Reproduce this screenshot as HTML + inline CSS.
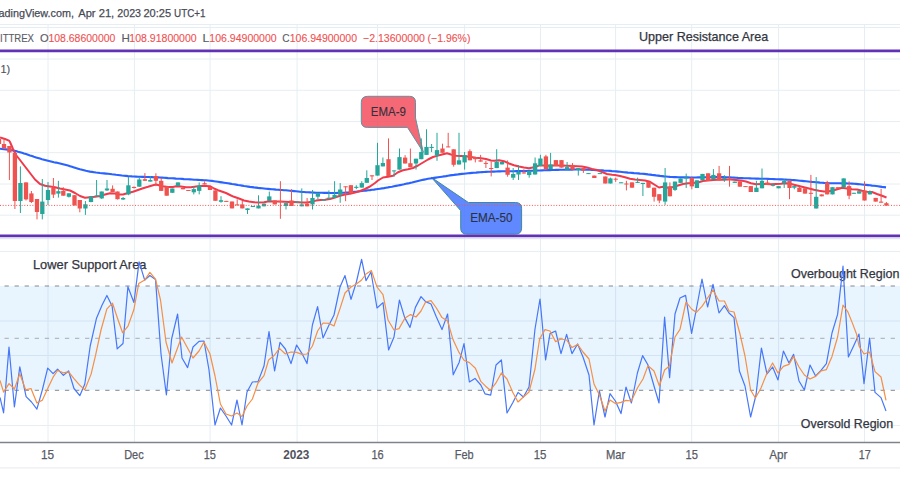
<!DOCTYPE html>
<html><head><meta charset="utf-8"><title>Chart</title>
<style>
html,body{margin:0;padding:0;background:#fff;width:900px;height:500px;overflow:hidden}
svg{display:block}
text{font-family:"Liberation Sans",sans-serif}
</style></head><body>
<svg width="900" height="500" viewBox="0 0 900 500">
<rect x="0" y="0" width="900" height="500" fill="#ffffff"/>
<line x1="0" y1="24.5" x2="900" y2="24.5" stroke="#e6eef3" stroke-width="1"/>
<line x1="0" y1="27.5" x2="900" y2="27.5" stroke="#e6eef3" stroke-width="1"/>
<line x1="0" y1="59" x2="900" y2="59" stroke="#e6eef3" stroke-width="1"/>
<line x1="0" y1="90.3" x2="900" y2="90.3" stroke="#e6eef3" stroke-width="1"/>
<line x1="0" y1="121.5" x2="900" y2="121.5" stroke="#e6eef3" stroke-width="1"/>
<line x1="0" y1="152.7" x2="900" y2="152.7" stroke="#e6eef3" stroke-width="1"/>
<line x1="0" y1="184" x2="900" y2="184" stroke="#e6eef3" stroke-width="1"/>
<line x1="0" y1="215.2" x2="900" y2="215.2" stroke="#e6eef3" stroke-width="1"/>
<line x1="0" y1="251.4" x2="900" y2="251.4" stroke="#e6eef3" stroke-width="1"/>
<line x1="0" y1="321" x2="900" y2="321" stroke="#e6eef3" stroke-width="1"/>
<line x1="0" y1="355.5" x2="900" y2="355.5" stroke="#e6eef3" stroke-width="1"/>
<line x1="0" y1="425.5" x2="900" y2="425.5" stroke="#e6eef3" stroke-width="1"/>
<line x1="48" y1="24.5" x2="48" y2="442" stroke="#e6eef3" stroke-width="1"/>
<line x1="134.4" y1="24.5" x2="134.4" y2="442" stroke="#e6eef3" stroke-width="1"/>
<line x1="210.1" y1="24.5" x2="210.1" y2="442" stroke="#e6eef3" stroke-width="1"/>
<line x1="297.1" y1="24.5" x2="297.1" y2="442" stroke="#e6eef3" stroke-width="1"/>
<line x1="377.5" y1="24.5" x2="377.5" y2="442" stroke="#e6eef3" stroke-width="1"/>
<line x1="464.6" y1="24.5" x2="464.6" y2="442" stroke="#e6eef3" stroke-width="1"/>
<line x1="540.5" y1="24.5" x2="540.5" y2="442" stroke="#e6eef3" stroke-width="1"/>
<line x1="615.6" y1="24.5" x2="615.6" y2="442" stroke="#e6eef3" stroke-width="1"/>
<line x1="691.7" y1="24.5" x2="691.7" y2="442" stroke="#e6eef3" stroke-width="1"/>
<line x1="778.6" y1="24.5" x2="778.6" y2="442" stroke="#e6eef3" stroke-width="1"/>
<line x1="864.5" y1="24.5" x2="864.5" y2="442" stroke="#e6eef3" stroke-width="1"/>
<line x1="0" y1="238.6" x2="900" y2="238.6" stroke="#e3e5ec" stroke-width="1.2"/>
<rect x="0" y="286" width="900" height="104" fill="rgb(33,150,243)" fill-opacity="0.1"/>
<line x1="0" y1="286" x2="900" y2="286" stroke="#85888f" stroke-width="1" stroke-dasharray="4.3 5.77" stroke-dashoffset="5.57"/>
<line x1="0" y1="338.3" x2="900" y2="338.3" stroke="#a9abb1" stroke-width="1" stroke-dasharray="4.3 5.77" stroke-dashoffset="5.57"/>
<line x1="0" y1="390.3" x2="900" y2="390.3" stroke="#85888f" stroke-width="1" stroke-dasharray="4.3 5.77" stroke-dashoffset="5.57"/>
<path d="M367.8,96.3 H409.5 Q415.5,96.3 415.5,102.3 V118 L423.3,152.2 L407.5,127.4 H367.3 Q361.3,127.4 361.3,121.4 V102.3 Q361.3,96.3 367.8,96.3 Z" fill="#f34d5d" fill-opacity="0.85" stroke="#5f93a3" stroke-width="1"/>
<text x="370.73" y="115.5" font-size="12.8" fill="#33303c" stroke="#33303c" stroke-width="0.1" textLength="35.14" lengthAdjust="spacingAndGlyphs">EMA-9</text>
<path d="M468.4,202.5 H515.6 Q521.6,202.5 521.6,208.5 V228.1 Q521.6,234.1 515.6,234.1 H466.7 Q460.7,234.1 460.7,228.1 V210.6 L431.3,177.3 Z" fill="#4474ff" fill-opacity="0.85" stroke="#3f8a9a" stroke-width="1"/>
<text x="470.13" y="221.8" font-size="12.8" fill="#2c3140" stroke="#2c3140" stroke-width="0.1" textLength="42.44" lengthAdjust="spacingAndGlyphs">EMA-50</text>
<polyline points="0.0,148.8 2.0,149.0 4.0,149.2 6.0,149.4 8.0,149.7 10.0,150.0 12.0,150.3 14.0,150.7 16.0,151.1 18.0,151.7 20.0,152.2 22.0,152.8 24.0,153.5 26.0,154.1 28.0,154.8 30.0,155.5 32.0,156.1 34.0,156.8 36.0,157.4 38.0,158.0 40.0,158.6 42.0,159.2 44.0,159.7 46.0,160.2 48.0,160.7 50.0,161.2 52.0,161.7 54.0,162.2 56.0,162.6 58.0,163.1 60.0,163.6 62.0,164.1 64.0,164.6 66.0,165.1 68.0,165.6 70.0,166.2 72.0,166.8 74.0,167.4 76.0,168.1 78.0,168.7 80.0,169.3 82.0,169.8 84.0,170.3 86.0,170.8 88.0,171.2 90.0,171.6 92.0,171.9 94.0,172.2 96.0,172.5 98.0,172.7 100.0,173.0 102.0,173.2 104.0,173.4 106.0,173.6 108.0,173.8 110.0,174.0 112.0,174.3 114.0,174.5 116.0,174.8 118.0,175.0 120.0,175.2 122.0,175.5 124.0,175.7 126.0,175.9 128.0,176.1 130.0,176.2 132.0,176.4 134.0,176.5 136.0,176.6 138.0,176.7 140.0,176.8 142.0,176.9 144.0,176.9 146.0,177.0 148.0,177.0 150.0,177.0 152.0,177.1 154.0,177.2 156.0,177.3 158.0,177.4 160.0,177.5 162.0,177.6 164.0,177.8 166.0,177.9 168.0,178.1 170.0,178.2 172.0,178.3 174.0,178.4 176.0,178.6 178.0,178.7 180.0,178.8 182.0,178.9 184.0,179.1 186.0,179.2 188.0,179.3 190.0,179.4 192.0,179.5 194.0,179.7 196.0,179.8 198.0,179.9 200.0,180.0 202.0,180.1 204.0,180.2 206.0,180.3 208.0,180.5 210.0,180.7 212.0,180.9 214.0,181.2 216.0,181.5 218.0,181.8 220.0,182.1 222.0,182.4 224.0,182.7 226.0,183.0 228.0,183.3 230.0,183.6 232.0,184.0 234.0,184.3 236.0,184.6 238.0,185.0 240.0,185.3 242.0,185.6 244.0,186.0 246.0,186.3 248.0,186.6 250.0,186.9 252.0,187.1 254.0,187.4 256.0,187.6 258.0,187.9 260.0,188.1 262.0,188.3 264.0,188.5 266.0,188.7 268.0,188.9 270.0,189.1 272.0,189.3 274.0,189.4 276.0,189.6 278.0,189.7 280.0,189.9 282.0,190.0 284.0,190.2 286.0,190.3 288.0,190.5 290.0,190.7 292.0,190.9 294.0,191.1 296.0,191.3 298.0,191.5 300.0,191.7 302.0,191.9 304.0,192.0 306.0,192.2 308.0,192.3 310.0,192.4 312.0,192.5 314.0,192.6 316.0,192.7 318.0,192.7 320.0,192.8 322.0,192.8 324.0,192.9 326.0,192.9 328.0,192.9 330.0,193.0 332.0,193.0 334.0,193.0 336.0,193.0 338.0,192.9 340.0,192.9 342.0,192.8 344.0,192.7 346.0,192.6 348.0,192.5 350.0,192.3 352.0,192.2 354.0,191.9 356.0,191.7 358.0,191.5 360.0,191.3 362.0,191.0 364.0,190.8 366.0,190.6 368.0,190.3 370.0,190.1 372.0,189.8 374.0,189.6 376.0,189.3 378.0,189.0 380.0,188.7 382.0,188.4 384.0,188.1 386.0,187.7 388.0,187.4 390.0,187.0 392.0,186.7 394.0,186.3 396.0,185.9 398.0,185.5 400.0,185.1 402.0,184.7 404.0,184.3 406.0,183.8 408.0,183.4 410.0,182.9 412.0,182.5 414.0,182.0 416.0,181.5 418.0,181.0 420.0,180.5 422.0,180.0 424.0,179.6 426.0,179.2 428.0,178.8 430.0,178.5 432.0,178.2 434.0,177.9 436.0,177.6 438.0,177.3 440.0,177.0 442.0,176.7 444.0,176.4 446.0,176.1 448.0,175.7 450.0,175.4 452.0,175.1 454.0,174.9 456.0,174.6 458.0,174.4 460.0,174.1 462.0,173.9 464.0,173.7 466.0,173.5 468.0,173.3 470.0,173.1 472.0,172.9 474.0,172.7 476.0,172.6 478.0,172.4 480.0,172.2 482.0,172.1 484.0,172.0 486.0,171.9 488.0,171.8 490.0,171.7 492.0,171.6 494.0,171.6 496.0,171.5 498.0,171.4 500.0,171.4 502.0,171.3 504.0,171.3 506.0,171.2 508.0,171.2 510.0,171.2 512.0,171.2 514.0,171.2 516.0,171.1 518.0,171.1 520.0,171.1 522.0,171.0 524.0,171.0 526.0,171.0 528.0,170.9 530.0,170.9 532.0,170.8 534.0,170.7 536.0,170.6 538.0,170.5 540.0,170.5 542.0,170.4 544.0,170.3 546.0,170.2 548.0,170.1 550.0,170.1 552.0,170.0 554.0,170.0 556.0,169.9 558.0,169.9 560.0,169.8 562.0,169.8 564.0,169.7 566.0,169.7 568.0,169.6 570.0,169.6 572.0,169.6 574.0,169.5 576.0,169.5 578.0,169.5 580.0,169.5 582.0,169.6 584.0,169.6 586.0,169.6 588.0,169.7 590.0,169.8 592.0,169.9 594.0,170.0 596.0,170.1 598.0,170.2 600.0,170.3 602.0,170.4 604.0,170.6 606.0,170.7 608.0,170.8 610.0,170.9 612.0,171.1 614.0,171.2 616.0,171.4 618.0,171.6 620.0,171.8 622.0,172.0 624.0,172.2 626.0,172.4 628.0,172.6 630.0,172.7 632.0,172.9 634.0,173.1 636.0,173.2 638.0,173.4 640.0,173.6 642.0,173.7 644.0,173.9 646.0,174.1 648.0,174.4 650.0,174.6 652.0,174.9 654.0,175.1 656.0,175.4 658.0,175.6 660.0,175.9 662.0,176.1 664.0,176.4 666.0,176.5 668.0,176.7 670.0,176.9 672.0,177.0 674.0,177.1 676.0,177.1 678.0,177.2 680.0,177.3 682.0,177.3 684.0,177.4 686.0,177.4 688.0,177.4 690.0,177.5 692.0,177.5 694.0,177.5 696.0,177.5 698.0,177.4 700.0,177.4 702.0,177.4 704.0,177.3 706.0,177.3 708.0,177.2 710.0,177.2 712.0,177.1 714.0,177.1 716.0,177.1 718.0,177.1 720.0,177.1 722.0,177.1 724.0,177.1 726.0,177.2 728.0,177.3 730.0,177.4 732.0,177.5 734.0,177.6 736.0,177.7 738.0,177.9 740.0,178.0 742.0,178.1 744.0,178.2 746.0,178.3 748.0,178.3 750.0,178.4 752.0,178.5 754.0,178.5 756.0,178.6 758.0,178.6 760.0,178.7 762.0,178.7 764.0,178.8 766.0,178.8 768.0,178.9 770.0,179.0 772.0,179.0 774.0,179.1 776.0,179.2 778.0,179.3 780.0,179.4 782.0,179.4 784.0,179.5 786.0,179.6 788.0,179.7 790.0,179.8 792.0,180.0 794.0,180.1 796.0,180.3 798.0,180.5 800.0,180.7 802.0,180.9 804.0,181.1 806.0,181.3 808.0,181.5 810.0,181.7 812.0,181.9 814.0,182.0 816.0,182.2 818.0,182.4 820.0,182.6 822.0,182.7 824.0,182.9 826.0,183.0 828.0,183.1 830.0,183.2 832.0,183.3 834.0,183.3 836.0,183.3 838.0,183.3 840.0,183.3 842.0,183.4 844.0,183.4 846.0,183.4 848.0,183.5 850.0,183.5 852.0,183.6 854.0,183.8 856.0,183.9 858.0,184.1 860.0,184.3 862.0,184.5 864.0,184.7 866.0,184.9 868.0,185.1 870.0,185.3 872.0,185.6 874.0,185.8 876.0,186.0 878.0,186.3 880.0,186.6 882.0,186.9 884.0,187.1 886.0,187.4" fill="none" stroke="#2962ff" stroke-width="2.1" stroke-linejoin="round"/>
<polyline points="0.0,137.4 5.0,139.0 9.0,140.6 10.0,142.0 13.0,149.0 16.0,155.0 20.0,160.0 25.0,166.5 30.0,173.0 35.0,179.5 40.0,184.0 45.0,185.8 50.0,186.5 55.0,187.2 60.0,188.5 65.0,189.5 70.0,190.5 75.0,193.0 80.0,196.0 85.0,197.8 90.0,197.2 95.0,196.8 100.0,196.0 105.0,194.5 110.0,193.2 115.0,193.5 118.0,194.6 123.0,194.5 128.0,193.0 133.0,191.8 138.0,190.0 143.0,188.2 148.0,186.8 153.0,185.2 156.0,184.5 158.0,185.0 163.0,186.2 168.0,187.0 173.0,187.0 176.0,186.3 181.0,186.5 186.0,187.2 191.0,187.2 196.0,186.5 201.0,186.0 206.0,186.0 210.0,186.2 214.0,188.5 218.0,190.2 221.0,191.2 226.0,193.0 231.0,195.5 234.0,196.8 239.0,198.5 244.0,200.5 249.0,201.5 254.0,202.2 259.0,202.5 264.0,202.2 269.0,201.3 274.0,201.4 279.0,201.4 284.5,201.7 289.0,202.0 293.5,202.0 298.0,202.3 302.5,202.6 307.0,202.4 311.5,201.7 316.0,200.6 320.5,200.1 325.0,199.8 330.0,199.0 335.0,197.5 340.0,195.8 345.0,194.5 350.0,193.8 355.0,192.5 360.0,191.0 365.0,189.0 370.0,186.5 375.0,183.0 378.0,180.5 383.0,177.5 388.0,176.8 393.0,175.8 398.0,172.2 403.0,170.2 408.0,169.2 413.0,168.0 418.0,165.5 423.0,162.5 428.0,159.5 433.0,157.0 438.0,155.6 441.0,154.8 447.0,153.3 451.0,154.5 456.0,155.8 461.0,156.0 466.0,156.2 471.0,157.0 476.0,157.8 481.0,158.2 486.0,159.0 491.0,160.5 494.0,160.8 499.0,160.2 504.0,161.2 509.0,163.5 514.0,165.2 519.0,166.5 524.0,167.5 529.0,168.2 534.0,167.2 539.0,165.6 544.0,165.5 549.0,165.7 554.0,165.5 557.0,165.5 562.0,165.5 567.0,165.8 572.0,166.0 577.0,166.2 582.0,166.5 587.0,167.5 592.0,169.0 597.0,170.0 602.0,172.0 607.0,174.0 612.0,174.8 615.0,175.0 620.0,176.0 625.0,177.2 630.0,178.8 635.0,179.5 640.0,180.0 645.0,180.5 650.0,181.8 655.0,185.0 659.0,187.5 663.0,186.8 668.0,187.8 673.0,187.0 678.0,185.5 683.0,184.0 688.0,183.2 693.0,183.0 698.0,182.5 703.0,181.0 708.0,180.5 713.0,180.0 718.0,179.8 723.0,179.8 728.0,179.5 731.0,179.5 736.0,180.0 741.0,180.5 746.0,181.5 751.0,183.2 756.0,184.2 761.0,184.0 766.0,184.0 771.0,184.2 776.0,184.0 781.0,183.8 784.0,183.2 789.0,183.5 794.0,184.8 799.0,186.0 804.0,187.2 809.0,188.5 814.0,189.8 819.0,190.8 824.0,191.5 829.0,191.2 834.0,190.2 839.0,188.8 842.0,187.8 847.0,188.5 852.0,189.2 857.0,189.5 862.0,190.8 867.0,191.8 872.0,192.0 877.0,194.0 882.0,195.8 886.5,197.5" fill="none" stroke="#f03a4c" stroke-width="2" stroke-linejoin="round"/>
<line x1="-1.0" y1="137" x2="-1.0" y2="145" stroke="#ef5350" stroke-width="1"/>
<rect x="-3.15" y="139" width="4.3" height="5.0" fill="#ef5350"/>
<line x1="4.0" y1="139.5" x2="4.0" y2="148.5" stroke="#ef5350" stroke-width="1"/>
<rect x="1.85" y="144" width="4.3" height="4.5" fill="#ef5350"/>
<line x1="9.4" y1="146" x2="9.4" y2="180" stroke="#ef5350" stroke-width="1"/>
<rect x="7.25" y="146" width="4.3" height="6.5" fill="#ef5350"/>
<line x1="14.9" y1="152.5" x2="14.9" y2="209" stroke="#ef5350" stroke-width="1"/>
<rect x="12.75" y="153" width="4.3" height="48.0" fill="#ef5350"/>
<line x1="20.4" y1="166.4" x2="20.4" y2="213" stroke="#26a69a" stroke-width="1"/>
<rect x="18.25" y="183" width="4.3" height="18.0" fill="#26a69a"/>
<line x1="26.0" y1="182.4" x2="26.0" y2="200.5" stroke="#ef5350" stroke-width="1"/>
<rect x="23.85" y="182.4" width="4.3" height="17.0" fill="#ef5350"/>
<line x1="31.4" y1="191" x2="31.4" y2="203" stroke="#ef5350" stroke-width="1"/>
<rect x="29.25" y="193.4" width="4.3" height="8.6" fill="#ef5350"/>
<line x1="37.0" y1="199" x2="37.0" y2="219.4" stroke="#ef5350" stroke-width="1"/>
<rect x="34.85" y="199" width="4.3" height="13.0" fill="#ef5350"/>
<line x1="42.3" y1="179" x2="42.3" y2="219.4" stroke="#26a69a" stroke-width="1"/>
<rect x="40.15" y="201.6" width="4.3" height="12.4" fill="#26a69a"/>
<line x1="48.0" y1="182" x2="48.0" y2="205" stroke="#26a69a" stroke-width="1"/>
<rect x="45.85" y="190" width="4.3" height="10.0" fill="#26a69a"/>
<line x1="53.4" y1="178" x2="53.4" y2="198" stroke="#ef5350" stroke-width="1"/>
<rect x="51.25" y="188" width="4.3" height="6.6" fill="#ef5350"/>
<line x1="58.4" y1="180.8" x2="58.4" y2="197.6" stroke="#26a69a" stroke-width="1"/>
<rect x="56.25" y="191.2" width="4.3" height="2.4" fill="#26a69a"/>
<line x1="63.3" y1="187.2" x2="63.3" y2="195.7" stroke="#ef5350" stroke-width="1"/>
<rect x="61.15" y="190.9" width="4.3" height="4.8" fill="#ef5350"/>
<line x1="68.9" y1="193.3" x2="68.9" y2="197.5" stroke="#26a69a" stroke-width="1"/>
<rect x="66.75" y="193.3" width="4.3" height="3.5" fill="#26a69a"/>
<line x1="74.5" y1="195.2" x2="74.5" y2="205.5" stroke="#ef5350" stroke-width="1"/>
<rect x="72.35" y="195.2" width="4.3" height="10.1" fill="#ef5350"/>
<line x1="79.8" y1="200" x2="79.8" y2="212.3" stroke="#ef5350" stroke-width="1"/>
<rect x="77.65" y="200" width="4.3" height="8.5" fill="#ef5350"/>
<line x1="85.4" y1="201" x2="85.4" y2="214.9" stroke="#26a69a" stroke-width="1"/>
<rect x="83.25" y="204.3" width="4.3" height="4.2" fill="#26a69a"/>
<line x1="91.0" y1="196.3" x2="91.0" y2="202.3" stroke="#26a69a" stroke-width="1"/>
<rect x="88.85" y="196.3" width="4.3" height="5.7" fill="#26a69a"/>
<line x1="96.6" y1="180" x2="96.6" y2="196.5" stroke="#26a69a" stroke-width="1"/>
<rect x="94.45" y="195.5" width="4.3" height="1.0" fill="#26a69a"/>
<line x1="101.7" y1="191.5" x2="101.7" y2="198.9" stroke="#26a69a" stroke-width="1"/>
<rect x="99.55" y="191.5" width="4.3" height="6.9" fill="#26a69a"/>
<line x1="107.0" y1="180" x2="107.0" y2="191" stroke="#26a69a" stroke-width="1"/>
<rect x="104.85" y="188.5" width="4.3" height="1.9" fill="#26a69a"/>
<line x1="112.6" y1="185.4" x2="112.6" y2="192" stroke="#ef5350" stroke-width="1"/>
<rect x="110.45" y="188.8" width="4.3" height="3.2" fill="#ef5350"/>
<line x1="117.5" y1="191.5" x2="117.5" y2="199.5" stroke="#ef5350" stroke-width="1"/>
<rect x="115.35" y="191.5" width="4.3" height="7.7" fill="#ef5350"/>
<line x1="123.1" y1="197" x2="123.1" y2="200" stroke="#26a69a" stroke-width="1"/>
<rect x="120.95" y="198" width="4.3" height="1.5" fill="#26a69a"/>
<line x1="128.4" y1="176.8" x2="128.4" y2="195.2" stroke="#26a69a" stroke-width="1"/>
<rect x="126.25" y="185.3" width="4.3" height="9.1" fill="#26a69a"/>
<line x1="134.0" y1="186.5" x2="134.0" y2="188.5" stroke="#ef5350" stroke-width="1"/>
<rect x="131.85" y="186.9" width="4.3" height="1.1" fill="#ef5350"/>
<line x1="139.3" y1="177.1" x2="139.3" y2="186.7" stroke="#26a69a" stroke-width="1"/>
<rect x="137.15" y="179.5" width="4.3" height="7.2" fill="#26a69a"/>
<line x1="144.9" y1="173.1" x2="144.9" y2="180.8" stroke="#ef5350" stroke-width="1"/>
<rect x="142.75" y="179.2" width="4.3" height="1.6" fill="#ef5350"/>
<line x1="150.3" y1="176" x2="150.3" y2="181.6" stroke="#26a69a" stroke-width="1"/>
<rect x="148.15" y="180" width="4.3" height="1.6" fill="#26a69a"/>
<line x1="155.9" y1="173.3" x2="155.9" y2="186.2" stroke="#ef5350" stroke-width="1"/>
<rect x="153.75" y="176" width="4.3" height="4.8" fill="#ef5350"/>
<line x1="161.2" y1="177.6" x2="161.2" y2="190.9" stroke="#ef5350" stroke-width="1"/>
<rect x="159.05" y="180.8" width="4.3" height="10.1" fill="#ef5350"/>
<line x1="166.7" y1="186.4" x2="166.7" y2="195.7" stroke="#ef5350" stroke-width="1"/>
<rect x="164.55" y="186.4" width="4.3" height="9.3" fill="#ef5350"/>
<line x1="172.3" y1="188.5" x2="172.3" y2="192.8" stroke="#26a69a" stroke-width="1"/>
<rect x="170.15" y="188.5" width="4.3" height="4.3" fill="#26a69a"/>
<line x1="178.0" y1="182.4" x2="178.0" y2="185.9" stroke="#26a69a" stroke-width="1"/>
<rect x="175.85" y="182.4" width="4.3" height="3.5" fill="#26a69a"/>
<line x1="183.0" y1="187.7" x2="183.0" y2="189.3" stroke="#ef5350" stroke-width="1"/>
<rect x="180.85" y="187.7" width="4.3" height="1.6" fill="#ef5350"/>
<line x1="188.4" y1="190" x2="188.4" y2="190.9" stroke="#ef5350" stroke-width="1"/>
<rect x="186.25" y="190" width="4.3" height="1.0" fill="#ef5350"/>
<line x1="193.8" y1="186.4" x2="193.8" y2="194.4" stroke="#26a69a" stroke-width="1"/>
<rect x="191.65" y="189.1" width="4.3" height="3.2" fill="#26a69a"/>
<line x1="199.2" y1="182.4" x2="199.2" y2="194.4" stroke="#26a69a" stroke-width="1"/>
<rect x="197.05" y="185.6" width="4.3" height="5.3" fill="#26a69a"/>
<line x1="204.6" y1="181.3" x2="204.6" y2="184.5" stroke="#ef5350" stroke-width="1"/>
<rect x="202.45" y="183.2" width="4.3" height="1.3" fill="#ef5350"/>
<line x1="210.0" y1="186.9" x2="210.0" y2="190" stroke="#ef5350" stroke-width="1"/>
<rect x="207.85" y="186.9" width="4.3" height="3.1" fill="#ef5350"/>
<line x1="215.4" y1="190.4" x2="215.4" y2="200.8" stroke="#ef5350" stroke-width="1"/>
<rect x="213.25" y="190.4" width="4.3" height="10.4" fill="#ef5350"/>
<line x1="221.0" y1="196.2" x2="221.0" y2="202.7" stroke="#26a69a" stroke-width="1"/>
<rect x="218.85" y="200.2" width="4.3" height="1.6" fill="#26a69a"/>
<line x1="226.3" y1="200.9" x2="226.3" y2="201.7" stroke="#ef5350" stroke-width="1"/>
<rect x="224.15" y="200.9" width="4.3" height="1.0" fill="#ef5350"/>
<line x1="232.0" y1="201.5" x2="232.0" y2="208.4" stroke="#ef5350" stroke-width="1"/>
<rect x="229.85" y="201.5" width="4.3" height="6.9" fill="#ef5350"/>
<line x1="237.2" y1="199.3" x2="237.2" y2="205.2" stroke="#ef5350" stroke-width="1"/>
<rect x="235.05" y="204.4" width="4.3" height="1.0" fill="#ef5350"/>
<line x1="242.3" y1="200.9" x2="242.3" y2="208.4" stroke="#ef5350" stroke-width="1"/>
<rect x="240.15" y="204.4" width="4.3" height="4.0" fill="#ef5350"/>
<line x1="247.5" y1="208.4" x2="247.5" y2="214" stroke="#26a69a" stroke-width="1"/>
<rect x="245.35" y="208.4" width="4.3" height="1.6" fill="#26a69a"/>
<line x1="252.9" y1="206" x2="252.9" y2="206.8" stroke="#26a69a" stroke-width="1"/>
<rect x="250.75" y="206" width="4.3" height="1.0" fill="#26a69a"/>
<line x1="258.5" y1="195.3" x2="258.5" y2="208.4" stroke="#26a69a" stroke-width="1"/>
<rect x="256.35" y="206" width="4.3" height="2.4" fill="#26a69a"/>
<line x1="264.0" y1="203.6" x2="264.0" y2="206.3" stroke="#26a69a" stroke-width="1"/>
<rect x="261.85" y="203.6" width="4.3" height="2.7" fill="#26a69a"/>
<line x1="269.3" y1="191.6" x2="269.3" y2="200.9" stroke="#26a69a" stroke-width="1"/>
<rect x="267.15" y="196.4" width="4.3" height="4.5" fill="#26a69a"/>
<line x1="274.8" y1="200.4" x2="274.8" y2="204.4" stroke="#ef5350" stroke-width="1"/>
<rect x="272.65" y="200.4" width="4.3" height="4.0" fill="#ef5350"/>
<line x1="280.4" y1="181.2" x2="280.4" y2="218.8" stroke="#ef5350" stroke-width="1"/>
<rect x="278.25" y="200.9" width="4.3" height="1.3" fill="#ef5350"/>
<line x1="286.0" y1="203.1" x2="286.0" y2="209.5" stroke="#26a69a" stroke-width="1"/>
<rect x="283.85" y="203.1" width="4.3" height="2.9" fill="#26a69a"/>
<line x1="291.5" y1="189.2" x2="291.5" y2="206" stroke="#ef5350" stroke-width="1"/>
<rect x="289.35" y="200.4" width="4.3" height="5.6" fill="#ef5350"/>
<line x1="297.1" y1="201.3" x2="297.1" y2="202.8" stroke="#26a69a" stroke-width="1"/>
<rect x="294.95" y="201.6" width="4.3" height="1.0" fill="#26a69a"/>
<line x1="301.8" y1="188.4" x2="301.8" y2="206.3" stroke="#26a69a" stroke-width="1"/>
<rect x="299.65" y="204.4" width="4.3" height="1.9" fill="#26a69a"/>
<line x1="307.1" y1="198" x2="307.1" y2="206.3" stroke="#ef5350" stroke-width="1"/>
<rect x="304.95" y="203.6" width="4.3" height="2.7" fill="#ef5350"/>
<line x1="312.5" y1="190" x2="312.5" y2="209.5" stroke="#26a69a" stroke-width="1"/>
<rect x="310.35" y="198" width="4.3" height="6.4" fill="#26a69a"/>
<line x1="317.9" y1="193.2" x2="317.9" y2="199.3" stroke="#26a69a" stroke-width="1"/>
<rect x="315.75" y="193.2" width="4.3" height="3.5" fill="#26a69a"/>
<line x1="323.8" y1="199.3" x2="323.8" y2="200.8" stroke="#26a69a" stroke-width="1"/>
<rect x="321.65" y="199.6" width="4.3" height="1.0" fill="#26a69a"/>
<line x1="328.9" y1="190.4" x2="328.9" y2="199" stroke="#26a69a" stroke-width="1"/>
<rect x="326.75" y="197.7" width="4.3" height="1.3" fill="#26a69a"/>
<line x1="334.6" y1="181.2" x2="334.6" y2="198" stroke="#26a69a" stroke-width="1"/>
<rect x="332.45" y="194.8" width="4.3" height="3.2" fill="#26a69a"/>
<line x1="340.2" y1="183.1" x2="340.2" y2="202.8" stroke="#26a69a" stroke-width="1"/>
<rect x="338.05" y="189.5" width="4.3" height="5.3" fill="#26a69a"/>
<line x1="345.6" y1="186.3" x2="345.6" y2="201.2" stroke="#ef5350" stroke-width="1"/>
<rect x="343.45" y="186.3" width="4.3" height="1.0" fill="#ef5350"/>
<line x1="350.9" y1="185.2" x2="350.9" y2="193.2" stroke="#ef5350" stroke-width="1"/>
<rect x="348.75" y="185.2" width="4.3" height="8.0" fill="#ef5350"/>
<line x1="356.3" y1="185.2" x2="356.3" y2="189.2" stroke="#26a69a" stroke-width="1"/>
<rect x="354.15" y="186.8" width="4.3" height="1.1" fill="#26a69a"/>
<line x1="361.8" y1="181.2" x2="361.8" y2="187.6" stroke="#26a69a" stroke-width="1"/>
<rect x="359.65" y="183.1" width="4.3" height="4.5" fill="#26a69a"/>
<line x1="366.8" y1="170.3" x2="366.8" y2="182.8" stroke="#26a69a" stroke-width="1"/>
<rect x="364.65" y="178" width="4.3" height="4.8" fill="#26a69a"/>
<line x1="372.0" y1="175.3" x2="372.0" y2="180" stroke="#ef5350" stroke-width="1"/>
<rect x="369.85" y="175.3" width="4.3" height="1.1" fill="#ef5350"/>
<line x1="377.5" y1="142.8" x2="377.5" y2="175.6" stroke="#26a69a" stroke-width="1"/>
<rect x="375.35" y="165.2" width="4.3" height="10.4" fill="#26a69a"/>
<line x1="382.9" y1="157.5" x2="382.9" y2="166.4" stroke="#26a69a" stroke-width="1"/>
<rect x="380.75" y="163" width="4.3" height="3.4" fill="#26a69a"/>
<line x1="388.5" y1="138.4" x2="388.5" y2="176" stroke="#ef5350" stroke-width="1"/>
<rect x="386.35" y="159.2" width="4.3" height="16.8" fill="#ef5350"/>
<line x1="394.1" y1="170.4" x2="394.1" y2="176.8" stroke="#26a69a" stroke-width="1"/>
<rect x="391.95" y="170.4" width="4.3" height="1.0" fill="#26a69a"/>
<line x1="399.5" y1="148.5" x2="399.5" y2="169.6" stroke="#26a69a" stroke-width="1"/>
<rect x="397.35" y="157.1" width="4.3" height="12.5" fill="#26a69a"/>
<line x1="405.1" y1="155.2" x2="405.1" y2="163.5" stroke="#ef5350" stroke-width="1"/>
<rect x="402.95" y="157.6" width="4.3" height="5.9" fill="#ef5350"/>
<line x1="410.4" y1="148.5" x2="410.4" y2="167.2" stroke="#ef5350" stroke-width="1"/>
<rect x="408.25" y="163.2" width="4.3" height="4.0" fill="#ef5350"/>
<line x1="416.0" y1="158.7" x2="416.0" y2="169.6" stroke="#26a69a" stroke-width="1"/>
<rect x="413.85" y="158.7" width="4.3" height="4.8" fill="#26a69a"/>
<line x1="421.3" y1="138.4" x2="421.3" y2="159.2" stroke="#26a69a" stroke-width="1"/>
<rect x="419.15" y="152" width="4.3" height="7.2" fill="#26a69a"/>
<line x1="426.5" y1="129.3" x2="426.5" y2="154.9" stroke="#26a69a" stroke-width="1"/>
<rect x="424.35" y="146.9" width="4.3" height="8.0" fill="#26a69a"/>
<line x1="431.6" y1="144" x2="431.6" y2="152" stroke="#26a69a" stroke-width="1"/>
<rect x="429.45" y="146.9" width="4.3" height="1.1" fill="#26a69a"/>
<line x1="437.0" y1="132.8" x2="437.0" y2="160.8" stroke="#26a69a" stroke-width="1"/>
<rect x="434.85" y="150.1" width="4.3" height="5.4" fill="#26a69a"/>
<line x1="442.5" y1="143.7" x2="442.5" y2="152.8" stroke="#ef5350" stroke-width="1"/>
<rect x="440.35" y="148.5" width="4.3" height="4.3" fill="#ef5350"/>
<line x1="448.2" y1="132.8" x2="448.2" y2="147.2" stroke="#ef5350" stroke-width="1"/>
<rect x="446.05" y="146.4" width="4.3" height="1.0" fill="#ef5350"/>
<line x1="453.7" y1="149.3" x2="453.7" y2="166.7" stroke="#ef5350" stroke-width="1"/>
<rect x="451.55" y="149.3" width="4.3" height="15.5" fill="#ef5350"/>
<line x1="459.0" y1="132.8" x2="459.0" y2="164.5" stroke="#26a69a" stroke-width="1"/>
<rect x="456.85" y="160.3" width="4.3" height="4.2" fill="#26a69a"/>
<line x1="464.6" y1="152" x2="464.6" y2="169.6" stroke="#26a69a" stroke-width="1"/>
<rect x="462.45" y="155.2" width="4.3" height="7.2" fill="#26a69a"/>
<line x1="469.9" y1="149.3" x2="469.9" y2="160.3" stroke="#ef5350" stroke-width="1"/>
<rect x="467.75" y="151.2" width="4.3" height="9.1" fill="#ef5350"/>
<line x1="475.3" y1="157.1" x2="475.3" y2="162.4" stroke="#ef5350" stroke-width="1"/>
<rect x="473.15" y="157.1" width="4.3" height="2.1" fill="#ef5350"/>
<line x1="480.6" y1="154.9" x2="480.6" y2="161.6" stroke="#ef5350" stroke-width="1"/>
<rect x="478.45" y="160.3" width="4.3" height="1.3" fill="#ef5350"/>
<line x1="485.9" y1="160.8" x2="485.9" y2="168" stroke="#ef5350" stroke-width="1"/>
<rect x="483.75" y="162.9" width="4.3" height="1.0" fill="#ef5350"/>
<line x1="491.2" y1="161.5" x2="491.2" y2="176.4" stroke="#ef5350" stroke-width="1"/>
<rect x="489.05" y="168" width="4.3" height="1.0" fill="#ef5350"/>
<line x1="496.7" y1="149.2" x2="496.7" y2="168.1" stroke="#26a69a" stroke-width="1"/>
<rect x="494.55" y="161.7" width="4.3" height="6.4" fill="#26a69a"/>
<line x1="502.0" y1="162" x2="502.0" y2="164.4" stroke="#26a69a" stroke-width="1"/>
<rect x="499.85" y="162" width="4.3" height="2.4" fill="#26a69a"/>
<line x1="507.6" y1="160.4" x2="507.6" y2="176.7" stroke="#ef5350" stroke-width="1"/>
<rect x="505.45" y="167.6" width="4.3" height="7.2" fill="#ef5350"/>
<line x1="513.2" y1="168" x2="513.2" y2="180" stroke="#26a69a" stroke-width="1"/>
<rect x="511.05" y="174" width="4.3" height="3.7" fill="#26a69a"/>
<line x1="518.5" y1="165.2" x2="518.5" y2="180" stroke="#26a69a" stroke-width="1"/>
<rect x="516.35" y="171.9" width="4.3" height="2.6" fill="#26a69a"/>
<line x1="523.9" y1="169.2" x2="523.9" y2="173.5" stroke="#ef5350" stroke-width="1"/>
<rect x="521.75" y="172.4" width="4.3" height="1.1" fill="#ef5350"/>
<line x1="529.2" y1="170.8" x2="529.2" y2="177.7" stroke="#26a69a" stroke-width="1"/>
<rect x="527.05" y="170.8" width="4.3" height="4.3" fill="#26a69a"/>
<line x1="535.1" y1="157.5" x2="535.1" y2="174.5" stroke="#26a69a" stroke-width="1"/>
<rect x="532.95" y="163.3" width="4.3" height="11.2" fill="#26a69a"/>
<line x1="540.4" y1="154.8" x2="540.4" y2="166" stroke="#26a69a" stroke-width="1"/>
<rect x="538.25" y="158.5" width="4.3" height="7.5" fill="#26a69a"/>
<line x1="545.9" y1="154.8" x2="545.9" y2="169.2" stroke="#ef5350" stroke-width="1"/>
<rect x="543.75" y="156.4" width="4.3" height="12.8" fill="#ef5350"/>
<line x1="550.6" y1="152.9" x2="550.6" y2="169.2" stroke="#26a69a" stroke-width="1"/>
<rect x="548.45" y="164.4" width="4.3" height="4.8" fill="#26a69a"/>
<line x1="555.9" y1="160.1" x2="555.9" y2="166" stroke="#ef5350" stroke-width="1"/>
<rect x="553.75" y="160.1" width="4.3" height="5.9" fill="#ef5350"/>
<line x1="561.5" y1="160.1" x2="561.5" y2="167.6" stroke="#ef5350" stroke-width="1"/>
<rect x="559.35" y="160.1" width="4.3" height="7.5" fill="#ef5350"/>
<line x1="567.1" y1="162" x2="567.1" y2="169.7" stroke="#26a69a" stroke-width="1"/>
<rect x="564.95" y="167.1" width="4.3" height="2.6" fill="#26a69a"/>
<line x1="572.5" y1="163.1" x2="572.5" y2="169.7" stroke="#ef5350" stroke-width="1"/>
<rect x="570.35" y="164.9" width="4.3" height="4.8" fill="#ef5350"/>
<line x1="578.3" y1="168.1" x2="578.3" y2="175.6" stroke="#26a69a" stroke-width="1"/>
<rect x="576.15" y="168.1" width="4.3" height="1.9" fill="#26a69a"/>
<line x1="583.4" y1="168.1" x2="583.4" y2="172.9" stroke="#ef5350" stroke-width="1"/>
<rect x="581.25" y="168.1" width="4.3" height="2.2" fill="#ef5350"/>
<line x1="588.5" y1="173.1" x2="588.5" y2="173.9" stroke="#26a69a" stroke-width="1"/>
<rect x="586.35" y="173.1" width="4.3" height="1.0" fill="#26a69a"/>
<line x1="594.3" y1="175.6" x2="594.3" y2="178" stroke="#ef5350" stroke-width="1"/>
<rect x="592.15" y="175.6" width="4.3" height="2.4" fill="#ef5350"/>
<line x1="599.9" y1="173.1" x2="599.9" y2="173.9" stroke="#26a69a" stroke-width="1"/>
<rect x="597.75" y="173.1" width="4.3" height="1.0" fill="#26a69a"/>
<line x1="605.3" y1="176.5" x2="605.3" y2="183.5" stroke="#ef5350" stroke-width="1"/>
<rect x="603.15" y="176.5" width="4.3" height="7.0" fill="#ef5350"/>
<line x1="610.4" y1="177.6" x2="610.4" y2="183.5" stroke="#26a69a" stroke-width="1"/>
<rect x="608.25" y="178.4" width="4.3" height="5.1" fill="#26a69a"/>
<line x1="615.7" y1="177.6" x2="615.7" y2="181.9" stroke="#ef5350" stroke-width="1"/>
<rect x="613.55" y="178.7" width="4.3" height="1.0" fill="#ef5350"/>
<line x1="621.1" y1="182.3" x2="621.1" y2="183" stroke="#26a69a" stroke-width="1"/>
<rect x="618.95" y="182.3" width="4.3" height="1.0" fill="#26a69a"/>
<line x1="626.4" y1="180.8" x2="626.4" y2="190.4" stroke="#ef5350" stroke-width="1"/>
<rect x="624.25" y="183.5" width="4.3" height="1.0" fill="#ef5350"/>
<line x1="632.0" y1="182.4" x2="632.0" y2="187.7" stroke="#ef5350" stroke-width="1"/>
<rect x="629.85" y="182.4" width="4.3" height="5.3" fill="#ef5350"/>
<line x1="637.6" y1="177.6" x2="637.6" y2="182.9" stroke="#26a69a" stroke-width="1"/>
<rect x="635.45" y="181.9" width="4.3" height="1.0" fill="#26a69a"/>
<line x1="642.9" y1="182.9" x2="642.9" y2="196" stroke="#26a69a" stroke-width="1"/>
<rect x="640.75" y="182.9" width="4.3" height="1.1" fill="#26a69a"/>
<line x1="648.5" y1="181.9" x2="648.5" y2="187.7" stroke="#ef5350" stroke-width="1"/>
<rect x="646.35" y="181.9" width="4.3" height="5.8" fill="#ef5350"/>
<line x1="654.1" y1="187.7" x2="654.1" y2="201.6" stroke="#ef5350" stroke-width="1"/>
<rect x="651.95" y="187.7" width="4.3" height="9.1" fill="#ef5350"/>
<line x1="659.3" y1="194.2" x2="659.3" y2="203.2" stroke="#ef5350" stroke-width="1"/>
<rect x="657.15" y="194.2" width="4.3" height="6.4" fill="#ef5350"/>
<line x1="665.1" y1="168" x2="665.1" y2="204.8" stroke="#26a69a" stroke-width="1"/>
<rect x="662.95" y="182.4" width="4.3" height="19.2" fill="#26a69a"/>
<line x1="669.9" y1="182.4" x2="669.9" y2="196.3" stroke="#ef5350" stroke-width="1"/>
<rect x="667.75" y="186.4" width="4.3" height="9.9" fill="#ef5350"/>
<line x1="675.0" y1="181.6" x2="675.0" y2="190.9" stroke="#26a69a" stroke-width="1"/>
<rect x="672.85" y="181.6" width="4.3" height="8.3" fill="#26a69a"/>
<line x1="680.6" y1="178.4" x2="680.6" y2="182.9" stroke="#26a69a" stroke-width="1"/>
<rect x="678.45" y="178.4" width="4.3" height="4.5" fill="#26a69a"/>
<line x1="686.2" y1="173.6" x2="686.2" y2="188" stroke="#26a69a" stroke-width="1"/>
<rect x="684.05" y="177.5" width="4.3" height="1.0" fill="#26a69a"/>
<line x1="691.8" y1="176.5" x2="691.8" y2="189.3" stroke="#ef5350" stroke-width="1"/>
<rect x="689.65" y="178.1" width="4.3" height="8.3" fill="#ef5350"/>
<line x1="696.9" y1="180.3" x2="696.9" y2="188" stroke="#26a69a" stroke-width="1"/>
<rect x="694.75" y="180.3" width="4.3" height="7.7" fill="#26a69a"/>
<line x1="702.5" y1="173.9" x2="702.5" y2="180.3" stroke="#26a69a" stroke-width="1"/>
<rect x="700.35" y="173.9" width="4.3" height="6.4" fill="#26a69a"/>
<line x1="708.1" y1="173.3" x2="708.1" y2="180.8" stroke="#ef5350" stroke-width="1"/>
<rect x="705.95" y="173.3" width="4.3" height="7.5" fill="#ef5350"/>
<line x1="713.4" y1="169.1" x2="713.4" y2="179.2" stroke="#26a69a" stroke-width="1"/>
<rect x="711.25" y="174.9" width="4.3" height="4.3" fill="#26a69a"/>
<line x1="719.1" y1="165.9" x2="719.1" y2="180.3" stroke="#ef5350" stroke-width="1"/>
<rect x="716.95" y="173.3" width="4.3" height="7.0" fill="#ef5350"/>
<line x1="724.4" y1="175.2" x2="724.4" y2="181.9" stroke="#26a69a" stroke-width="1"/>
<rect x="722.25" y="178.1" width="4.3" height="1.1" fill="#26a69a"/>
<line x1="729.5" y1="165.9" x2="729.5" y2="186.7" stroke="#ef5350" stroke-width="1"/>
<rect x="727.35" y="178.7" width="4.3" height="1.0" fill="#ef5350"/>
<line x1="734.8" y1="181.6" x2="734.8" y2="182.9" stroke="#26a69a" stroke-width="1"/>
<rect x="732.65" y="181.6" width="4.3" height="1.3" fill="#26a69a"/>
<line x1="739.9" y1="181.3" x2="739.9" y2="186.7" stroke="#ef5350" stroke-width="1"/>
<rect x="737.75" y="181.3" width="4.3" height="5.4" fill="#ef5350"/>
<line x1="745.5" y1="186.1" x2="745.5" y2="186.9" stroke="#ef5350" stroke-width="1"/>
<rect x="743.35" y="186.1" width="4.3" height="1.0" fill="#ef5350"/>
<line x1="750.8" y1="186.1" x2="750.8" y2="192" stroke="#ef5350" stroke-width="1"/>
<rect x="748.65" y="186.1" width="4.3" height="5.9" fill="#ef5350"/>
<line x1="756.4" y1="180.8" x2="756.4" y2="192" stroke="#26a69a" stroke-width="1"/>
<rect x="754.25" y="187.7" width="4.3" height="4.3" fill="#26a69a"/>
<line x1="762.0" y1="168.5" x2="762.0" y2="188.3" stroke="#26a69a" stroke-width="1"/>
<rect x="759.85" y="180.8" width="4.3" height="7.5" fill="#26a69a"/>
<line x1="767.4" y1="180" x2="767.4" y2="185" stroke="#ef5350" stroke-width="1"/>
<rect x="765.25" y="182.5" width="4.3" height="2.5" fill="#ef5350"/>
<line x1="773.0" y1="183.8" x2="773.0" y2="186.5" stroke="#26a69a" stroke-width="1"/>
<rect x="770.85" y="184.8" width="4.3" height="1.0" fill="#26a69a"/>
<line x1="778.6" y1="186.1" x2="778.6" y2="188.3" stroke="#26a69a" stroke-width="1"/>
<rect x="776.45" y="186.1" width="4.3" height="2.2" fill="#26a69a"/>
<line x1="784.2" y1="179.2" x2="784.2" y2="188" stroke="#26a69a" stroke-width="1"/>
<rect x="782.05" y="180.8" width="4.3" height="2.4" fill="#26a69a"/>
<line x1="789.5" y1="180.8" x2="789.5" y2="199.2" stroke="#ef5350" stroke-width="1"/>
<rect x="787.35" y="180.8" width="4.3" height="7.2" fill="#ef5350"/>
<line x1="794.3" y1="186.1" x2="794.3" y2="189.3" stroke="#26a69a" stroke-width="1"/>
<rect x="792.15" y="186.1" width="4.3" height="1.6" fill="#26a69a"/>
<line x1="799.4" y1="187" x2="799.4" y2="192" stroke="#ef5350" stroke-width="1"/>
<rect x="797.25" y="187.7" width="4.3" height="4.3" fill="#ef5350"/>
<line x1="805.0" y1="188.3" x2="805.0" y2="193.6" stroke="#ef5350" stroke-width="1"/>
<rect x="802.85" y="188.3" width="4.3" height="5.3" fill="#ef5350"/>
<line x1="810.9" y1="174.9" x2="810.9" y2="205.6" stroke="#ef5350" stroke-width="1"/>
<rect x="808.75" y="192.8" width="4.3" height="1.0" fill="#ef5350"/>
<line x1="816.2" y1="177.1" x2="816.2" y2="208.5" stroke="#26a69a" stroke-width="1"/>
<rect x="814.05" y="196.8" width="4.3" height="11.7" fill="#26a69a"/>
<line x1="821.7" y1="194.4" x2="821.7" y2="196.3" stroke="#ef5350" stroke-width="1"/>
<rect x="819.55" y="194.4" width="4.3" height="1.9" fill="#ef5350"/>
<line x1="827.2" y1="180.8" x2="827.2" y2="194.4" stroke="#ef5350" stroke-width="1"/>
<rect x="825.05" y="182.4" width="4.3" height="12.0" fill="#ef5350"/>
<line x1="832.5" y1="187.2" x2="832.5" y2="194.4" stroke="#26a69a" stroke-width="1"/>
<rect x="830.35" y="187.2" width="4.3" height="7.2" fill="#26a69a"/>
<line x1="837.9" y1="187.2" x2="837.9" y2="188.8" stroke="#ef5350" stroke-width="1"/>
<rect x="835.75" y="187.2" width="4.3" height="1.6" fill="#ef5350"/>
<line x1="843.7" y1="178.4" x2="843.7" y2="187.2" stroke="#26a69a" stroke-width="1"/>
<rect x="841.55" y="178.4" width="4.3" height="8.8" fill="#26a69a"/>
<line x1="849.1" y1="181.3" x2="849.1" y2="199.2" stroke="#ef5350" stroke-width="1"/>
<rect x="846.95" y="186.1" width="4.3" height="9.6" fill="#ef5350"/>
<line x1="853.9" y1="192.8" x2="853.9" y2="193.6" stroke="#26a69a" stroke-width="1"/>
<rect x="851.75" y="192.8" width="4.3" height="1.0" fill="#26a69a"/>
<line x1="859.2" y1="191.2" x2="859.2" y2="193.6" stroke="#26a69a" stroke-width="1"/>
<rect x="857.05" y="191.2" width="4.3" height="2.4" fill="#26a69a"/>
<line x1="864.5" y1="181.3" x2="864.5" y2="200.5" stroke="#ef5350" stroke-width="1"/>
<rect x="862.35" y="190.9" width="4.3" height="9.6" fill="#ef5350"/>
<line x1="869.9" y1="190.4" x2="869.9" y2="194.4" stroke="#26a69a" stroke-width="1"/>
<rect x="867.75" y="191.5" width="4.3" height="2.9" fill="#26a69a"/>
<line x1="875.7" y1="197.9" x2="875.7" y2="201.6" stroke="#ef5350" stroke-width="1"/>
<rect x="873.55" y="197.9" width="4.3" height="3.7" fill="#ef5350"/>
<line x1="881.1" y1="188.8" x2="881.1" y2="202.7" stroke="#ef5350" stroke-width="1"/>
<rect x="878.95" y="201.6" width="4.3" height="1.1" fill="#ef5350"/>
<line x1="886.4" y1="202" x2="886.4" y2="205.6" stroke="#ef5350" stroke-width="1"/>
<rect x="884.25" y="203.2" width="4.3" height="2.4" fill="#ef5350"/>
<text x="32.94" y="269.2" font-size="12.6" fill="#33363f" stroke="#33363f" stroke-width="0.25" textLength="113.51" lengthAdjust="spacingAndGlyphs">Lower Support Area</text>
<text x="790.93" y="278.3" font-size="12.8" fill="#33363f" stroke="#33363f" stroke-width="0.25" textLength="108.54" lengthAdjust="spacingAndGlyphs">Overbought Region</text>
<text x="800.83" y="428.1" font-size="12.8" fill="#33363f" stroke="#33363f" stroke-width="0.25" textLength="92.34" lengthAdjust="spacingAndGlyphs">Oversold Region</text>
<polyline points="0.0,397.5 3.6,412.8 9.0,347.1 14.4,407.0 19.8,366.9 26.1,396.6 31.5,402.0 36.9,409.2 42.3,390.0 47.7,368.2 53.1,373.7 57.6,369.1 63.4,375.4 68.6,371.0 74.0,388.5 79.8,395.7 84.8,384.0 90.2,346.0 96.4,318.6 102.0,305.3 106.9,295.5 112.1,306.0 117.2,348.9 123.0,343.5 127.9,286.7 133.9,302.5 139.1,261.9 144.7,280.1 149.9,275.5 155.5,279.4 161.0,354.0 166.4,395.0 171.6,339.0 177.6,314.0 182.0,358.0 187.6,367.6 193.0,347.0 199.0,341.4 204.0,341.0 209.0,370.0 215.0,425.0 220.4,408.0 226.0,416.0 231.6,425.0 237.0,400.0 242.0,425.0 247.0,392.0 252.4,382.0 258.0,381.6 264.0,366.0 269.0,331.6 274.6,371.0 280.0,342.4 285.4,349.0 291.0,363.6 296.6,345.0 302.0,353.6 307.0,363.6 312.4,325.0 317.6,306.6 323.0,338.0 329.0,325.0 334.0,315.0 340.0,287.0 345.0,275.6 351.0,299.4 356.4,282.0 361.6,259.4 366.0,280.6 371.0,272.0 377.0,308.0 383.0,302.6 388.6,350.0 394.0,337.0 399.4,300.0 404.6,317.4 410.0,327.4 415.4,307.4 421.0,296.6 425.6,301.6 431.0,304.0 436.4,317.0 442.0,329.6 447.6,314.0 453.2,374.8 459.2,362.2 464.0,343.6 469.4,382.0 475.0,378.4 480.8,385.0 485.0,393.8 490.7,395.2 496.0,365.0 501.4,360.0 507.0,413.0 512.6,403.0 518.0,392.4 523.4,397.0 529.0,387.0 535.0,329.0 540.0,299.0 545.6,360.0 550.0,333.6 555.6,331.0 561.0,353.6 566.6,334.4 572.0,353.6 577.6,344.0 583.0,357.0 589.0,375.0 594.0,425.0 599.4,391.0 605.0,417.0 610.0,393.6 615.4,401.0 621.0,413.6 626.0,387.0 631.4,403.0 637.4,373.0 642.6,355.6 648.0,365.0 654.0,386.0 659.0,403.0 664.6,317.0 669.6,377.6 675.0,314.0 680.0,298.0 685.6,295.4 691.6,333.4 696.4,309.0 702.0,279.0 707.6,307.0 713.0,284.4 719.0,313.0 724.4,305.6 729.0,313.0 734.0,317.6 739.4,371.0 745.0,386.0 750.6,417.0 756.0,395.0 761.4,348.0 767.0,374.0 772.6,367.0 778.0,380.0 783.4,351.0 789.0,363.0 793.6,354.4 799.0,381.0 804.4,390.0 810.0,365.0 815.6,376.0 821.0,370.4 826.4,363.6 832.0,333.0 837.6,314.4 843.0,266.2 848.4,357.0 853.6,346.0 859.0,334.0 864.0,383.6 869.6,338.0 875.0,392.4 881.0,397.6 886.0,411.0" fill="none" stroke="#4677f8" stroke-width="1.2" stroke-linejoin="round"/>
<polyline points="0.0,380.4 3.6,392.1 9.0,383.6 14.4,389.0 19.8,373.7 25.6,389.8 31.0,388.5 36.9,402.9 42.3,400.2 47.7,388.5 53.1,377.2 57.6,370.5 63.4,372.8 68.6,371.8 74.0,378.6 79.4,384.9 84.8,389.8 91.1,374.1 95.6,355.2 101.0,330.0 106.9,308.8 112.5,303.2 117.4,318.0 122.6,332.8 128.0,326.1 133.9,309.5 138.7,283.6 144.7,280.1 149.9,272.4 155.5,279.1 160.5,300.0 166.0,342.0 172.0,363.0 181.6,337.0 187.0,347.0 193.0,358.0 199.0,351.0 204.0,342.0 210.0,354.0 215.0,376.0 220.4,404.0 226.0,414.0 231.6,416.0 237.0,413.0 242.0,416.4 247.0,406.0 252.4,399.0 258.0,383.0 264.0,375.6 268.6,360.0 274.6,355.0 279.4,348.4 285.4,354.0 291.0,352.0 296.6,352.4 302.0,354.4 307.0,354.0 312.4,346.0 317.6,331.0 323.0,323.0 329.0,323.4 334.0,326.0 340.0,308.6 345.0,293.0 351.0,287.0 356.4,284.0 361.6,280.0 366.0,274.0 371.4,270.6 377.0,287.0 383.0,294.6 388.0,320.0 394.0,330.0 399.0,328.6 405.0,318.0 410.6,314.6 416.0,317.0 421.0,311.0 425.6,302.0 431.0,300.6 436.4,308.0 442.0,317.6 447.6,321.0 453.0,339.6 459.0,352.4 464.0,360.2 469.4,362.6 475.4,368.2 480.8,381.4 485.6,386.2 490.4,390.2 495.8,383.2 501.4,373.0 507.0,379.0 512.6,392.0 518.0,402.0 523.4,397.0 529.0,392.0 535.0,369.0 539.6,339.0 545.0,329.6 550.0,331.0 555.6,341.6 561.0,339.0 566.6,340.0 572.0,347.6 577.6,344.4 583.0,352.0 589.0,359.0 594.0,384.0 599.4,395.0 605.0,411.0 610.0,400.0 615.4,403.6 621.0,402.4 626.0,400.4 631.4,401.0 637.4,388.0 643.0,379.0 648.0,365.6 654.0,371.0 659.4,386.0 664.6,370.0 669.4,366.0 675.0,337.0 680.0,329.4 686.0,302.0 691.6,309.0 696.4,312.4 702.0,306.4 707.6,298.0 713.0,290.0 719.0,301.0 724.4,301.0 729.0,311.0 734.0,312.0 740.0,334.0 745.0,356.0 750.6,390.0 755.4,398.0 761.0,388.0 767.0,373.0 772.6,363.0 778.0,373.0 783.4,366.4 789.0,364.4 793.6,356.4 799.0,367.0 804.4,375.0 810.0,379.0 815.6,376.4 821.0,371.0 826.4,369.6 832.0,356.4 837.6,337.0 843.0,305.0 848.0,312.2 852.5,323.4 856.6,334.2 859.0,346.0 864.0,354.0 869.6,352.0 875.0,371.6 881.0,377.0 886.0,400.4" fill="none" stroke="#f58f45" stroke-width="1.2" stroke-linejoin="round"/>
<line x1="0" y1="50.9" x2="900" y2="50.9" stroke="#6232b6" stroke-width="2.8"/>
<line x1="0" y1="235.9" x2="900" y2="235.9" stroke="#6232b6" stroke-width="2.8"/>
<line x1="0" y1="205.4" x2="900" y2="205.4" stroke="#ef5350" stroke-width="1" stroke-dasharray="1 1.7"/>
<line x1="0" y1="442.6" x2="900" y2="442.6" stroke="#7f828c" stroke-width="1.5"/>
<line x1="0" y1="467.8" x2="900" y2="467.8" stroke="#eceef2" stroke-width="1.2"/>
<text x="40.93" y="459" font-size="12.8" fill="#585b66" stroke="#585b66" stroke-width="0.25" textLength="13.14" lengthAdjust="spacingAndGlyphs">15</text>
<text x="124.13" y="459" font-size="12.8" fill="#585b66" stroke="#585b66" stroke-width="0.25" textLength="19.54" lengthAdjust="spacingAndGlyphs">Dec</text>
<text x="203.63" y="459" font-size="12.8" fill="#585b66" stroke="#585b66" stroke-width="0.25" textLength="12.24" lengthAdjust="spacingAndGlyphs">15</text>
<text x="371.43" y="459" font-size="12.8" fill="#585b66" stroke="#585b66" stroke-width="0.25" textLength="12.24" lengthAdjust="spacingAndGlyphs">16</text>
<text x="454.83" y="459" font-size="12.8" fill="#585b66" stroke="#585b66" stroke-width="0.25" textLength="18.84" lengthAdjust="spacingAndGlyphs">Feb</text>
<text x="533.63" y="459" font-size="12.8" fill="#585b66" stroke="#585b66" stroke-width="0.25" textLength="12.74" lengthAdjust="spacingAndGlyphs">15</text>
<text x="605.93" y="459" font-size="12.8" fill="#585b66" stroke="#585b66" stroke-width="0.25" textLength="19.24" lengthAdjust="spacingAndGlyphs">Mar</text>
<text x="685.43" y="459" font-size="12.8" fill="#585b66" stroke="#585b66" stroke-width="0.25" textLength="12.44" lengthAdjust="spacingAndGlyphs">15</text>
<text x="769.23" y="459" font-size="12.8" fill="#585b66" stroke="#585b66" stroke-width="0.25" textLength="18.24" lengthAdjust="spacingAndGlyphs">Apr</text>
<text x="858.83" y="459" font-size="12.8" fill="#585b66" stroke="#585b66" stroke-width="0.25" textLength="12.04" lengthAdjust="spacingAndGlyphs">17</text>
<text x="283.13" y="459" font-size="12.8" fill="#50535d" font-weight="bold" textLength="26.24" lengthAdjust="spacingAndGlyphs">2023</text>
<text x="-1.51" y="17.4" font-size="11.8" fill="#474a54" stroke="#474a54" stroke-width="0.25" textLength="75.52" lengthAdjust="spacingAndGlyphs">adingView.com,</text>
<text x="78.19" y="17.4" font-size="11.8" fill="#474a54" stroke="#474a54" stroke-width="0.25" textLength="36.02" lengthAdjust="spacingAndGlyphs">Apr 21,</text>
<text x="117.29" y="17.4" font-size="11.8" fill="#474a54" stroke="#474a54" stroke-width="0.25" textLength="23.72" lengthAdjust="spacingAndGlyphs">2023</text>
<text x="143.49" y="17.4" font-size="11.8" fill="#474a54" stroke="#474a54" stroke-width="0.25" textLength="27.62" lengthAdjust="spacingAndGlyphs">20:25</text>
<text x="174.09" y="17.4" font-size="11.8" fill="#474a54" stroke="#474a54" stroke-width="0.25" textLength="31.42" lengthAdjust="spacingAndGlyphs">UTC+1</text>
<text x="0.02" y="42" font-size="11.3" fill="#5a5d68" stroke="#5a5d68" stroke-width="0.15" textLength="33.96" lengthAdjust="spacingAndGlyphs">ITTREX</text>
<text x="40.02" y="42" font-size="11.3" fill="#5a5d68" stroke="#5a5d68" stroke-width="0.15" textLength="8.66" lengthAdjust="spacingAndGlyphs">O</text>
<text x="48.42" y="42" font-size="11.3" fill="#ef5050" stroke="#ef5050" stroke-width="0.1" textLength="66.96" lengthAdjust="spacingAndGlyphs">108.68600000</text>
<text x="121.62" y="42" font-size="11.3" fill="#5a5d68" stroke="#5a5d68" stroke-width="0.15" textLength="8.36" lengthAdjust="spacingAndGlyphs">H</text>
<text x="129.32" y="42" font-size="11.3" fill="#ef5050" stroke="#ef5050" stroke-width="0.1" textLength="67.36" lengthAdjust="spacingAndGlyphs">108.91800000</text>
<text x="202.62" y="42" font-size="11.3" fill="#5a5d68" stroke="#5a5d68" stroke-width="0.15" textLength="6.76" lengthAdjust="spacingAndGlyphs">L</text>
<text x="209.32" y="42" font-size="11.3" fill="#ef5050" stroke="#ef5050" stroke-width="0.1" textLength="67.36" lengthAdjust="spacingAndGlyphs">106.94900000</text>
<text x="282.32" y="42" font-size="11.3" fill="#5a5d68" stroke="#5a5d68" stroke-width="0.15" textLength="7.36" lengthAdjust="spacingAndGlyphs">C</text>
<text x="289.72" y="42" font-size="11.3" fill="#ef5050" stroke="#ef5050" stroke-width="0.1" textLength="67.26" lengthAdjust="spacingAndGlyphs">106.94900000</text>
<text x="363.02" y="42" font-size="11.3" fill="#ef5050" stroke="#ef5050" stroke-width="0.1" textLength="61.96" lengthAdjust="spacingAndGlyphs">−2.13600000</text>
<text x="427.62" y="42" font-size="11.3" fill="#ef5050" stroke="#ef5050" stroke-width="0.1" textLength="42.76" lengthAdjust="spacingAndGlyphs">(−1.96%)</text>
<text x="638.94" y="40.7" font-size="12.6" fill="#33363f" stroke="#33363f" stroke-width="0.25" textLength="129.31" lengthAdjust="spacingAndGlyphs">Upper Resistance Area</text>
<text x="0.54" y="72.8" font-size="11" fill="#50535d" stroke="#50535d" stroke-width="0.15" textLength="9.72" lengthAdjust="spacingAndGlyphs">1)</text>
</svg></body></html>
